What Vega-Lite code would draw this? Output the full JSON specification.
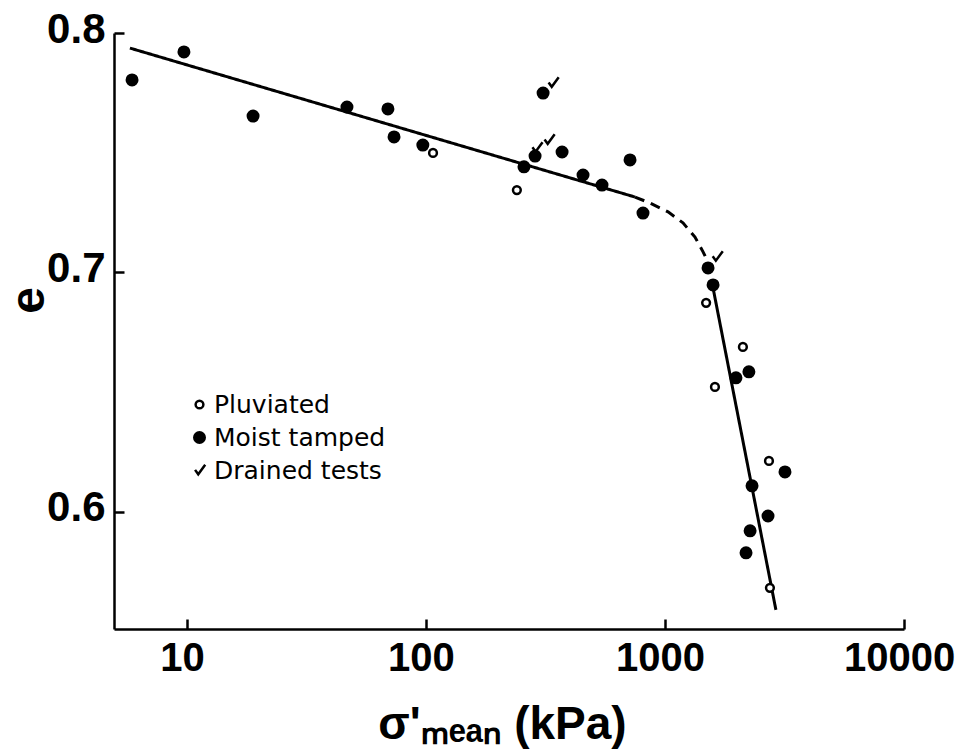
{
  "$schema": "https://vega.github.io/schema/vega-lite/v6.json",
  "width": 790,
  "height": 596,
  "autosize": {"type": "none"},
  "padding": {"left": 114, "top": 33, "right": 57, "bottom": 127},
  "background": "white",
  "config": {"view": {"stroke": null}},
  "datasets": {
    "pts": [
      {"x": 5.89, "e": 0.7804, "type": "Moist tamped"},
      {"x": 9.71, "e": 0.7921, "type": "Moist tamped"},
      {"x": 18.9, "e": 0.7653, "type": "Moist tamped"},
      {"x": 46.7, "e": 0.7691, "type": "Moist tamped"},
      {"x": 69.3, "e": 0.7683, "type": "Moist tamped"},
      {"x": 73.5, "e": 0.7566, "type": "Moist tamped"},
      {"x": 97.0, "e": 0.7532, "type": "Moist tamped"},
      {"x": 257, "e": 0.7441, "type": "Moist tamped"},
      {"x": 286, "e": 0.7486, "type": "Moist tamped"},
      {"x": 309, "e": 0.7749, "type": "Moist tamped"},
      {"x": 371, "e": 0.7503, "type": "Moist tamped"},
      {"x": 454, "e": 0.7407, "type": "Moist tamped"},
      {"x": 545, "e": 0.7365, "type": "Moist tamped"},
      {"x": 714, "e": 0.7470, "type": "Moist tamped"},
      {"x": 809, "e": 0.7248, "type": "Moist tamped"},
      {"x": 1514, "e": 0.7019, "type": "Moist tamped"},
      {"x": 1589, "e": 0.6948, "type": "Moist tamped"},
      {"x": 2244, "e": 0.6585, "type": "Moist tamped"},
      {"x": 1981, "e": 0.6560, "type": "Moist tamped"},
      {"x": 3177, "e": 0.6167, "type": "Moist tamped"},
      {"x": 2313, "e": 0.6109, "type": "Moist tamped"},
      {"x": 2698, "e": 0.5983, "type": "Moist tamped"},
      {"x": 2270, "e": 0.5921, "type": "Moist tamped"},
      {"x": 2183, "e": 0.5829, "type": "Moist tamped"},
      {"x": 107, "e": 0.7499, "type": "Pluviated"},
      {"x": 240, "e": 0.7344, "type": "Pluviated"},
      {"x": 1486, "e": 0.6873, "type": "Pluviated"},
      {"x": 2118, "e": 0.6689, "type": "Pluviated"},
      {"x": 1618, "e": 0.6522, "type": "Pluviated"},
      {"x": 2723, "e": 0.6213, "type": "Pluviated"},
      {"x": 2748, "e": 0.5683, "type": "Pluviated"},
      {"x": 340, "e": 0.7791, "type": "Drained tests"},
      {"x": 327, "e": 0.7553, "type": "Drained tests"},
      {"x": 291, "e": 0.7520, "type": "Drained tests"},
      {"x": 1652, "e": 0.7065, "type": "Drained tests"}
    ],
    "lines": [
      {"x": 5.77, "e": 0.7937, "seg": "upper", "style": "solid"},
      {"x": 749, "e": 0.7315, "seg": "upper", "style": "solid"},
      {"x": 749, "e": 0.7315, "seg": "curve", "style": "dashed"},
      {"x": 865, "e": 0.7290, "seg": "curve", "style": "dashed"},
      {"x": 1030, "e": 0.7253, "seg": "curve", "style": "dashed"},
      {"x": 1189, "e": 0.7207, "seg": "curve", "style": "dashed"},
      {"x": 1335, "e": 0.7148, "seg": "curve", "style": "dashed"},
      {"x": 1443, "e": 0.7086, "seg": "curve", "style": "dashed"},
      {"x": 1514, "e": 0.7044, "seg": "curve", "style": "dashed"},
      {"x": 1574, "e": 0.6956, "seg": "steep", "style": "solid"},
      {"x": 2911, "e": 0.5591, "seg": "steep", "style": "solid"}
    ]
  },
  "layer": [
    {
      "data": {"name": "lines"},
      "mark": {"type": "line", "color": "black", "strokeWidth": 3, "clip": true},
      "encoding": {
        "x": {
          "field": "x", "type": "quantitative",
          "scale": {"type": "log", "domain": [4.95, 10000], "nice": false},
          "axis": {
            "values": [10, 100, 1000, 10000],
            "format": "d",
            "grid": false,
            "domainColor": "black", "domainWidth": 2.5,
            "tickColor": "black", "tickWidth": 2.5, "tickSize": -10,
            "labelFont": "Liberation Sans",
            "labelFontWeight": "bold", "labelFontSize": 40, "labelColor": "black",
            "labelPadding": 19, "labelFlush": false, "labelOffset": -5,
            "title": "σ'ₘₑₐₙ (kPa)",
            "titleFont": "Liberation Sans",
            "titleFontWeight": "bold", "titleFontSize": 46, "titleColor": "black",
            "titlePadding": 24, "titleX": 388
          }
        },
        "y": {
          "field": "e", "type": "quantitative",
          "scale": {"domain": [0.5511, 0.8], "nice": false, "zero": false},
          "axis": {
            "values": [0.6, 0.7, 0.8],
            "format": ".1f",
            "grid": false,
            "domainColor": "black", "domainWidth": 2.5,
            "tickColor": "black", "tickWidth": 2.5, "tickSize": -10,
            "labelFont": "Liberation Sans",
            "labelFontWeight": "bold", "labelFontSize": 42, "labelColor": "black",
            "labelPadding": 19, "labelFlush": false, "labelOffset": -4,
            "title": "e",
            "titleFont": "Liberation Sans",
            "titleFontWeight": "bold", "titleFontSize": 48, "titleColor": "black",
            "titleX": -85, "titleY": 267, "titleBaseline": "middle", "titleAngle": -90
          }
        },
        "detail": {"field": "seg", "type": "nominal"},
        "strokeDash": {
          "field": "style", "type": "nominal",
          "scale": {"domain": ["solid", "dashed"], "range": [[1, 0], [10, 7]]},
          "legend": null
        }
      }
    },
    {
      "data": {"name": "pts"},
      "mark": {"type": "point", "filled": true, "stroke": "black", "strokeWidth": 2.5, "opacity": 1},
      "encoding": {
        "x": {"field": "x", "type": "quantitative"},
        "y": {"field": "e", "type": "quantitative"},
        "shape": {
          "field": "type", "type": "nominal",
          "scale": {"domain": ["Pluviated", "Moist tamped", "Drained tests"], "range": ["circle", "circle", "M-0.7,-0.1L-0.2,0.6L0.9,-0.9"]},
          "legend": {
            "orient": "none", "legendX": 73, "legendY": 359, "title": null,
            "labelFont": "DejaVu Sans", "labelFontSize": 25, "labelColor": "black",
            "labelLimit": 400,
            "rowPadding": 7, "labelOffset": 2, "padding": 0,
            "symbolStrokeWidth": 2.5, "symbolStrokeColor": "black"
          }
        },
        "fill": {
          "field": "type", "type": "nominal",
          "scale": {"domain": ["Pluviated", "Moist tamped", "Drained tests"], "range": ["white", "black", "transparent"]}
        },
        "size": {
          "field": "type", "type": "nominal",
          "scale": {"domain": ["Pluviated", "Moist tamped", "Drained tests"], "range": [60, 160, 90]}
        }
      }
    }
  ]
}
